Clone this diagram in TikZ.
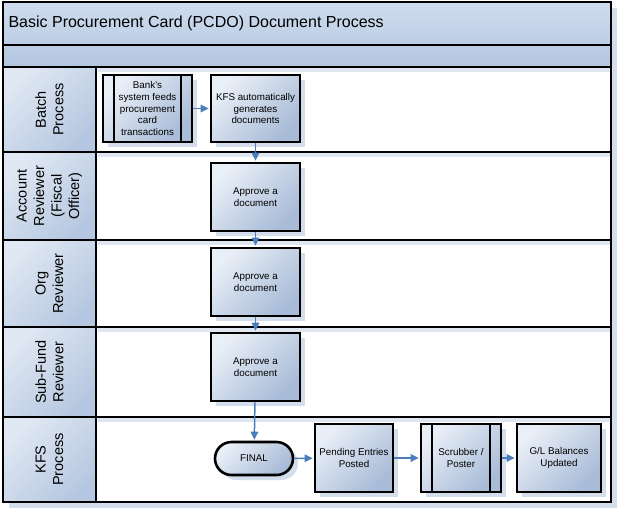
\documentclass[tikz,border=0pt]{standalone}
\usepackage{fontspec}
\setmainfont{Liberation Sans}
\usetikzlibrary{arrows.meta,shadows,shapes.misc}
\definecolor{boxhi}{HTML}{E9EFF7}
\definecolor{boxlo}{HTML}{A8BBD7}
\definecolor{headhi}{HTML}{E0E8F3}
\definecolor{headlo}{HTML}{B5C7E0}
\definecolor{bandhi}{HTML}{CFDCEE}
\definecolor{bandlo}{HTML}{B3C6E0}
\definecolor{shadowblue}{HTML}{D3DDEB}
\definecolor{flowblue}{HTML}{4A7EBB}
\begin{document}
\begin{tikzpicture}[x=1pt,y=-1pt,line join=miter,
	task/.style={draw,line width=2.6pt,top color=boxhi,bottom color=boxlo,shading angle=45,minimum width=89pt,minimum height=67pt,inner sep=2pt,align=center,font=\fontsize{9.8}{11.7}\selectfont,general shadow={fill=shadowblue,shadow xshift=5pt,shadow yshift=-5pt}},
	subproc/.style={task,path picture={\draw[line width=2.6pt]([xshift=11pt]path picture bounding box.south west)--([xshift=11pt]path picture bounding box.north west)([xshift=-11pt]path picture bounding box.south east)--([xshift=-11pt]path picture bounding box.north east);}},
	terminal/.style={task,rounded rectangle,minimum width=82pt,minimum height=33pt},
	lanelabel/.style={rotate=90,align=center,font=\fontsize{14.5}{17.5}\selectfont},
	flow/.style={draw=flowblue,line width=1.5pt,shorten >=1pt,-{Triangle[length=8pt,width=7.5pt]}}]
	\useasboundingbox(0,0)rectangle(618,509);
	% pool and lanes
	\fill[shadowblue](9,8)rectangle(617,508);
	\fill[white](3,2)rectangle(611,502);
	\shade[top color=bandhi,bottom color=bandlo](3,2)rectangle(611,67);
	\node[anchor=west,font=\fontsize{16}{19}\selectfont](title)at(5,23){Basic Procurement Card (PCDO) Document Process};
	\foreach \ya/\yb/\txt [count=\i] in {67/152/{Batch\\Process},152/240/{Account\\Reviewer\\(Fiscal\\Officer)},240/327/{Org\\Reviewer},327/417/{Sub-Fund\\Reviewer},417/502/{KFS\\Process}}{
		\shade[top color=headhi,bottom color=headlo,shading angle=45](3,\ya)rectangle(96,\yb);
		\fill[shadowblue!70](98,\ya+1)rectangle(611,\ya+5);
		\node[lanelabel](lane\i)at(49.5,{(\ya+\yb)/2}){\txt};
	}
	\draw[line width=1.4pt](3,2)rectangle(611,67);
	\draw[line width=1.4pt](3,45)--(611,45);
	\draw[line width=2.6pt](3,67)rectangle(611,502);
	\foreach \y in {152,240,327,417}\draw[line width=2.6pt](3,\y)--(611,\y);
	\draw[line width=2.6pt](96,67)--(96,502);
	% steps
	\node[subproc](bank)at(147.5,108.5){Bank's\\system feeds\\procurement\\card\\transactions};
	\node[task](kfsgen)at(255.5,108.5){KFS automatically\\generates\\documents};
	\node[task,minimum height=68pt](appr1)at(255.5,197){Approve a\\document};
	\node[task,minimum height=68pt](appr2)at(255.5,282){Approve a\\document};
	\node[task,minimum height=68pt](appr3)at(255.5,367){Approve a\\document};
	\node[terminal](final)at(254,458.5){FINAL};
	\node[task,minimum width=78pt,minimum height=68pt](pending)at(354,458){Pending Entries\\Posted};
	\node[subproc,minimum width=80pt,minimum height=68pt](scrub)at(461,458){Scrubber /\\Poster};
	\node[task,minimum width=84pt,minimum height=68pt](glbal)at(559,458){G/L Balances\\Updated};
	% flow
	\draw[flow](bank)--(kfsgen);
	\draw[flow](kfsgen)--(appr1);
	\draw[flow](appr1)--(appr2);
	\draw[flow](appr2)--(appr3);
	\draw[flow](appr3)--(final);
	\draw[flow](final)--(pending);
	\draw[flow](pending)--(scrub);
	\draw[flow](scrub)--(glbal);
\end{tikzpicture}
\end{document}
